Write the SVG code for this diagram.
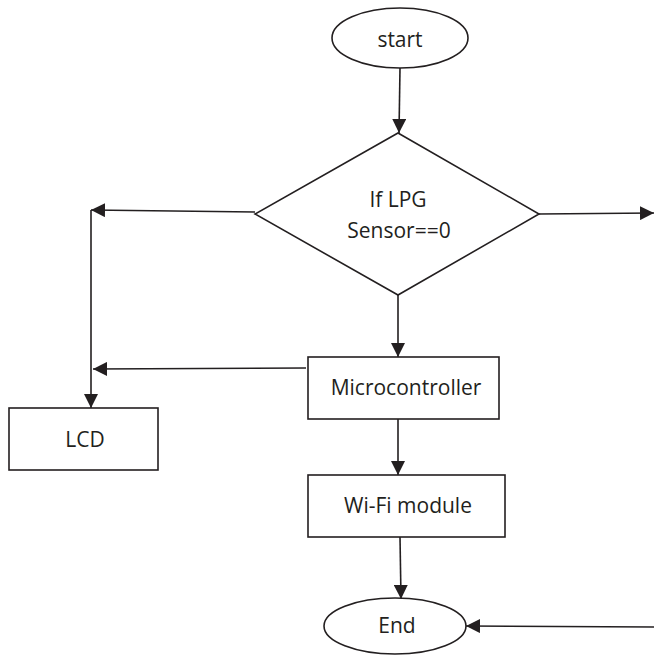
<svg xmlns="http://www.w3.org/2000/svg" width="654" height="656" viewBox="0 0 654 656">
<style>
.s{fill:#fff;stroke:#231f20;stroke-width:1.6}
.c{fill:none;stroke:#231f20;stroke-width:1.6}
text{font-family:"Open Sans","Liberation Sans",sans-serif;font-size:21px;fill:#231f20;text-anchor:middle}
</style>
<defs>
<marker id="a" markerUnits="userSpaceOnUse" markerWidth="16" markerHeight="14" refX="14" refY="7" orient="auto">
<path d="M0,0 L14,7 L0,14 Z" fill="#231f20"/>
</marker>
</defs>
<rect width="654" height="656" fill="#fff"/>
<g id="connectors">
<line class="c" x1="400" y1="68" x2="399" y2="133" marker-end="url(#a)"/>
<line class="c" x1="539" y1="214" x2="654" y2="213" marker-end="url(#a)"/>
<line class="c" x1="255" y1="212" x2="91" y2="210" marker-end="url(#a)"/>
<line class="c" x1="91" y1="210" x2="91" y2="408" marker-end="url(#a)"/>
<line class="c" x1="306" y1="368" x2="93" y2="369" marker-end="url(#a)"/>
<line class="c" x1="398" y1="295" x2="398" y2="357" marker-end="url(#a)"/>
<line class="c" x1="398" y1="419" x2="398" y2="475" marker-end="url(#a)"/>
<line class="c" x1="400" y1="537" x2="401" y2="599" marker-end="url(#a)"/>
<line class="c" x1="654" y1="627" x2="466" y2="626" marker-end="url(#a)"/>
</g>
<g id="start">
<ellipse class="s" cx="400" cy="38" rx="68" ry="30"/>
<text x="400" y="47">start</text>
</g>
<g id="decision">
<polygon class="s" points="398,133 539,214 398,295 255,214"/>
<text x="398" y="207">If LPG</text>
<text x="399" y="238">Sensor==0</text>
</g>
<g id="microcontroller">
<rect class="s" x="308" y="357" width="191" height="62"/>
<text x="406" y="395">Microcontroller</text>
</g>
<g id="lcd">
<rect class="s" x="9" y="408" width="149" height="62"/>
<text x="85" y="447">LCD</text>
</g>
<g id="wifi">
<rect class="s" x="308" y="475" width="197" height="62"/>
<text x="408" y="513">Wi-Fi module</text>
</g>
<g id="end">
<ellipse class="s" cx="395" cy="626" rx="71" ry="28"/>
<text x="397" y="633">End</text>
</g>
</svg>
